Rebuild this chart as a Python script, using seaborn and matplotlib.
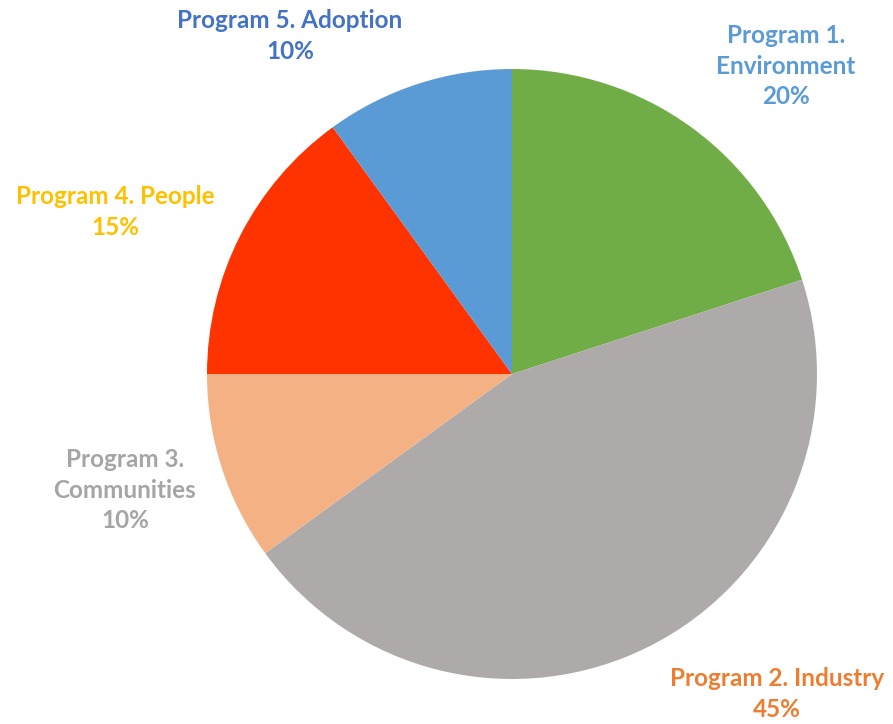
import matplotlib
matplotlib.use('Agg')
import matplotlib.pyplot as plt
import seaborn as sns

# data
programs = ['Program 1.\nEnvironment', 'Program 2. Industry', 'Program 3.\nCommunities',
            'Program 4. People', 'Program 5. Adoption']
shares = [20, 45, 10, 15, 10]

slice_colors = ['#70AD47', '#AEAAAA', '#F4B183', '#FF3300', '#5B9BD5']
label_colors = ['#5B9BD5', '#ED7D31', '#A5A5A5', '#FFC000', '#4472C4']
# label centres in pixel coords (from bottom-left)
label_pos = [(786, 658), (777, 30), (125, 234), (115, 512), (290, 688)]

sns.set_theme(style='white')
plt.rcParams['font.family'] = ['Lato', 'DejaVu Sans']

fig = plt.figure(figsize=(8.93, 7.24), dpi=100)
ax = fig.add_axes([0, 0, 1, 1])

ax.pie(shares, colors=slice_colors, startangle=90, counterclock=False,
       center=(512, 350), radius=305, wedgeprops=dict(linewidth=0))

# pie() resets the limits, so set them afterwards
ax.set_xlim(0, 893)
ax.set_ylim(0, 724)
ax.set_aspect('equal')
ax.axis('off')

for name, val, col, (x, y) in zip(programs, shares, label_colors, label_pos):
    ax.text(x, y, f'{name}\n{val}%', color=col, ha='center', va='center',
            fontsize=17.5, fontweight='bold', linespacing=1.42)

fig.savefig('out.png', dpi=100)
